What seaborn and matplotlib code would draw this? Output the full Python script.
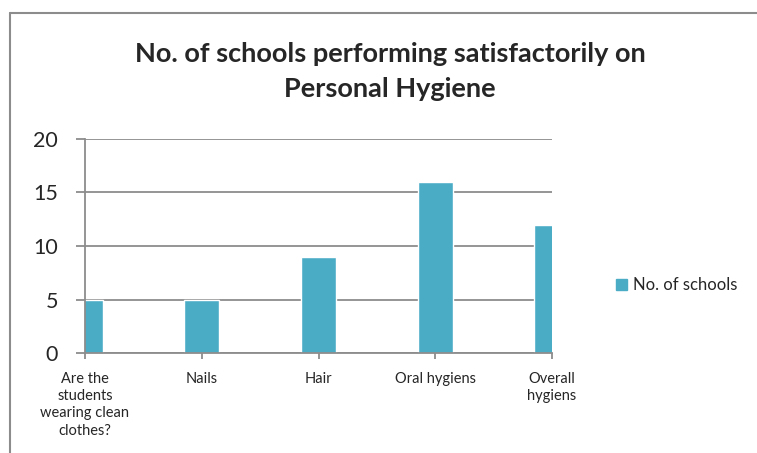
import matplotlib
matplotlib.use("Agg")
import matplotlib.pyplot as plt
from matplotlib.lines import Line2D
import seaborn as sns
import pandas as pd

# Data
categories = ["Are the\nstudents\nwearing clean\nclothes?", "Nails", "Hair",
              "Oral hygiens", "Overall\nhygiens"]
values = [5, 5, 9, 16, 12]
series_name = "No. of schools"
yticks = [0, 5, 10, 15, 20]

df = pd.DataFrame({"category": categories, "value": values})

sns.set_style("white")
plt.rcParams['font.family'] = ['Lato', 'DejaVu Sans']

fig = plt.figure(figsize=(7.57, 4.53), dpi=100)
ax = fig.add_axes([85/757, 1-353/453, (552-85)/757, (353-139)/453])

bar_color = "#4BACC6"
sns.barplot(data=df, x="category", y="value", color=bar_color, width=0.3,
            saturation=1, ax=ax, label=series_name)

ax.set_xlim(0, len(categories) - 1)
ax.set_ylim(0, 20)
ax.set_yticks(yticks)
ax.set_xlabel("")
ax.set_ylabel("")

grey = "#8c8c8c"
ax.set_axisbelow(True)
ax.yaxis.grid(True, color=grey, linewidth=1.3)
ax.xaxis.grid(False)
for side in ["top", "right"]:
    ax.spines[side].set_visible(False)
for side in ["left", "bottom"]:
    ax.spines[side].set_color(grey)
    ax.spines[side].set_linewidth(1.3)

ax.tick_params(axis="y", left=True, length=6.5, width=1.3, color=grey,
               labelsize=15.5, pad=13)
ax.tick_params(axis="x", bottom=True, length=4, width=1.3, color=grey,
               labelsize=10.5, pad=9.5)
for lab in ax.get_xticklabels():
    lab.set_linespacing(1.3)

ax.legend().remove()
fig.legend(handles=[plt.Rectangle((0, 0), 1, 1, color=bar_color)],
           labels=[series_name], loc="center left",
           bbox_to_anchor=(601/757, 1-285/453), frameon=False,
           fontsize=12, handlelength=0.65, handleheight=0.65, handletextpad=0.35)

fig.text(390/757, 1-71.5/453,
         "No. of schools performing satisfactorily on\nPersonal Hygiene",
         ha="center", va="center", fontsize=19.5, fontweight="bold",
         linespacing=1.55)

# chart frame (top and left edges visible)
fig.add_artist(Line2D([9.5/757, 9.5/757], [0, 1-13/453], color=grey, linewidth=1.5))
fig.add_artist(Line2D([9.5/757, 1], [1-13/453, 1-13/453], color=grey, linewidth=1.5))

fig.savefig("out.png", dpi=100)
